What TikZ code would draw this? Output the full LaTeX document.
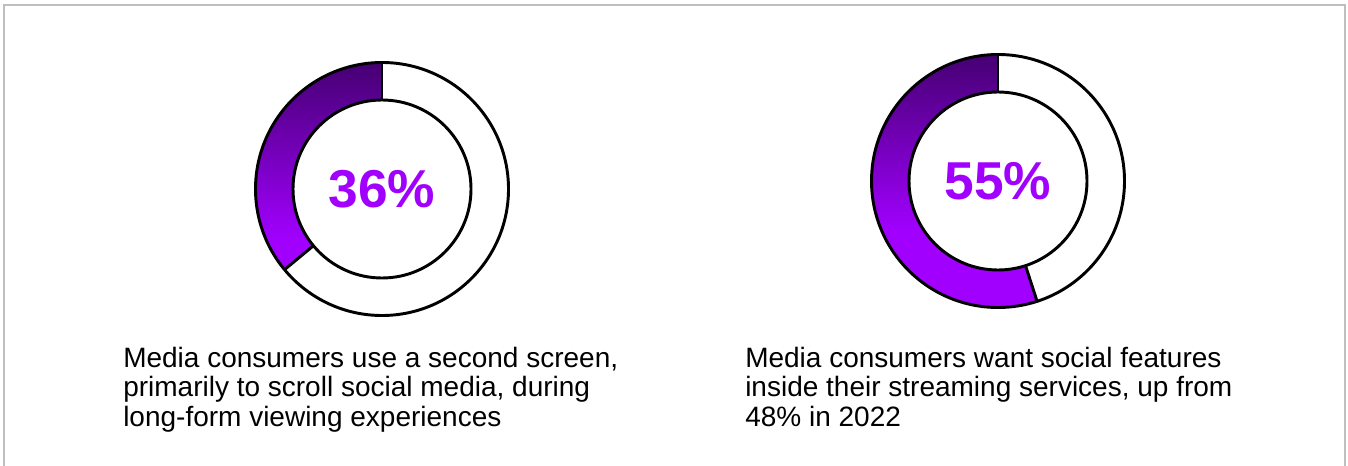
\documentclass[tikz,border=0pt]{standalone}
\usepackage{fontspec}
\setmainfont{Liberation Sans}
\usetikzlibrary{positioning}
\definecolor{darkpurple}{HTML}{460073}
\definecolor{brightpurple}{HTML}{A100FF}
\definecolor{framegray}{HTML}{BFBFBF}
% visible part of a vertical shading is 25bp--75bp
\pgfdeclareverticalshading{ringfade}{100bp}{color(0bp)=(brightpurple); color(40bp)=(brightpurple); color(75bp)=(darkpurple); color(100bp)=(darkpurple)}

\begin{document}
\begin{tikzpicture}[x=0.75pt, y=0.75pt,
    ring/.style={line width=2.2pt},
    pct/.style={font=\fontsize{40}{40}\selectfont\bfseries, text=brightpurple},
    caption/.style={anchor=base west, align=left, inner sep=0pt, font=\fontsize{21}{22.2}\selectfont}]
    \useasboundingbox (0,0) rectangle (1348,465);
    
    % frame, open at the bottom
    \draw[framegray, line width=1.5pt] (4,-5) -- (4,459.5) -- (1345,459.5) -- (1345,-5);
    
    \coordinate (c1) at (382,276);
    \coordinate (c2) at (998,284);
    
    % first ring: 36%
    \begin{scope}[shift={(c1)}]
        \begin{scope}
            \clip (90:126.5) arc[start angle=90, end angle=219.6, radius=126.5]
                -- (219.6:89) arc[start angle=219.6, end angle=90, radius=89] -- cycle;
            \shade[shading=ringfade] (0,0) circle[radius=126.5];
        \end{scope}
        \draw[ring] (0,0) circle[radius=126.5];
        \draw[ring] (0,0) circle[radius=89];
        \draw[ring] (90:89) -- (90:126.5);
        \draw[ring] (219.6:89) -- (219.6:126.5);
    \end{scope}
    
    % second ring: 55%
    \begin{scope}[shift={(c2)}]
        \begin{scope}
            \clip (90:126.5) arc[start angle=90, end angle=288, radius=126.5]
                -- (288:89) arc[start angle=288, end angle=90, radius=89] -- cycle;
            \shade[shading=ringfade] (0,0) circle[radius=126.5];
        \end{scope}
        \draw[ring] (0,0) circle[radius=126.5];
        \draw[ring] (0,0) circle[radius=89];
        \draw[ring] (90:89) -- (90:126.5);
        \draw[ring] (288:89) -- (288:126.5);
    \end{scope}
    
    \node[pct] (pctA) at (c1) {36\%};
    \node[pct] (pctB) at (c2) {55\%};
    
    % base anchor sits on the last line
    \node[caption] (capA) at (123,38.5) {Media consumers use a second screen,\\primarily to scroll social media, during\\long-form viewing experiences};
    \node[caption] (capB) at (745,38.5) {Media consumers want social features\\inside their streaming services, up from\\48\% in 2022};
\end{tikzpicture}
\end{document}
